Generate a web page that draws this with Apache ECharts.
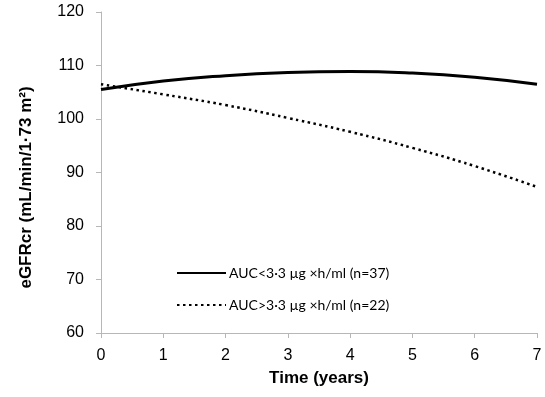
<!DOCTYPE html>
<html>
<head>
<meta charset="utf-8">
<script src="https://cdn.jsdelivr.net/npm/echarts@6/dist/echarts.min.js"></script>
<style>html,body{margin:0;padding:0;background:#fff}#c{width:545px;height:397px}</style>
</head>
<body>
<div id="c"></div>
<script>
var years = [0, 1, 2, 3, 4, 5, 6, 7];
var lowAUC = [105.5, 107.1, 108.1, 108.7, 108.9, 108.6, 107.8, 106.5];
var highAUC = [106.5, 104.6, 102.6, 100.2, 97.6, 94.6, 91.2, 87.3];
var seriesNames = ['AUC<3·3 µg ×h/ml (n=37)', 'AUC>3·3 µg ×h/ml (n=22)'];
var xTitle = 'Time (years)';
var yTitle = 'eGFRcr (mL/min/1·73 m²)';

function pairs(xs, ys) { return xs.map(function (x, i) { return [x, ys[i]]; }); }

var chart = echarts.init(document.getElementById('c'), null, { renderer: 'canvas' });
var axisCol = '#b7b7b7';
var labelFont = { fontFamily: 'Liberation Sans', fontSize: 16, color: '#000' };
chart.setOption({
  animation: false,
  backgroundColor: '#fff',
  grid: { left: 101, right: 8, top: 12, bottom: 64, containLabel: false },
  legend: {
    orient: 'vertical',
    left: 171, top: 261,
    itemWidth: 49, itemHeight: 14, itemGap: 18,
    itemStyle: { opacity: 0 },
    textStyle: { fontFamily: 'Lato', fontSize: 14, color: '#000', padding: [0, 0, 0, -2] },
    data: seriesNames
  },
  xAxis: {
    type: 'value', min: 0, max: 7, interval: 1,
    name: xTitle, nameLocation: 'middle', nameGap: 37,
    nameTextStyle: { fontFamily: 'Liberation Sans', fontSize: 17, fontWeight: 'bold', color: '#000' },
    axisLine: { show: true, lineStyle: { color: axisCol, width: 1 } },
    axisTick: { show: true, length: 5, lineStyle: { color: axisCol } },
    axisLabel: Object.assign({ margin: 15 }, labelFont),
    splitLine: { show: false }
  },
  yAxis: {
    type: 'value', min: 60, max: 120, interval: 10,
    name: yTitle, nameLocation: 'middle', nameGap: 66, nameRotate: 90,
    nameTextStyle: { fontFamily: 'Liberation Sans', fontSize: 17, fontWeight: 'bold', color: '#000', padding: [0, 30, 0, 0] },
    axisLine: { show: true, lineStyle: { color: axisCol, width: 1 } },
    axisTick: { show: true, length: 5, lineStyle: { color: axisCol } },
    axisLabel: Object.assign({ margin: 17 }, labelFont),
    splitLine: { show: false }
  },
  series: [
    {
      name: seriesNames[0], type: 'line', smooth: true, symbol: 'none', showSymbol: false,
      data: pairs(years, lowAUC),
      lineStyle: { color: '#000', width: 3, type: 'solid' },
      itemStyle: { color: '#000' }
    },
    {
      name: seriesNames[1], type: 'line', smooth: true, symbol: 'none', showSymbol: false,
      data: pairs(years, highAUC),
      lineStyle: { color: '#000', width: 2.5, type: [2.5, 3.5] },
      itemStyle: { color: '#000' }
    }
  ]
});
</script>
</body>
</html>
